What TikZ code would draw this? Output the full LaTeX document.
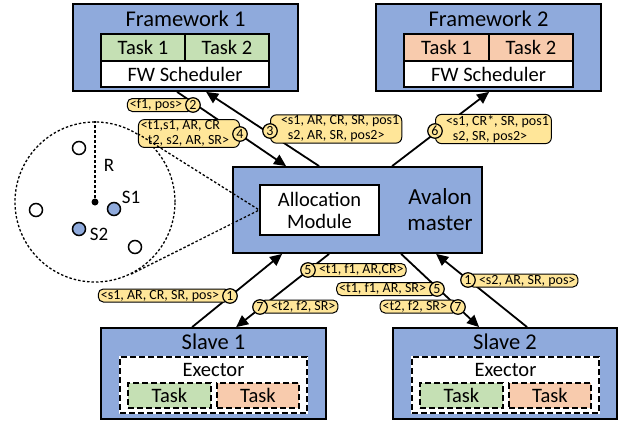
\documentclass[tikz,border=0pt]{standalone}
\usepackage{fontspec}
\setmainfont{Carlito}
\usetikzlibrary{calc,arrows.meta}
\definecolor{boxblue}{HTML}{8FAADC}
\definecolor{taskgreen}{HTML}{C5E0B4}
\definecolor{taskorange}{HTML}{F8CBAD}
\definecolor{pillyellow}{HTML}{FFE699}
\begin{document}
\begin{tikzpicture}[x=1pt,y=-1pt,
  box/.style={draw, line width=1.8, fill=boxblue, inner sep=0},
  inbox/.style={draw, line width=1.5, inner sep=0, font=\fontsize{20.5}{22}\selectfont},
  title/.style={font=\fontsize{22.5}{24}\selectfont, inner sep=0},
  dashbox/.style={draw, line width=1.5, dash pattern=on 6pt off 3pt, preaction={draw=white, line width=2.5, solid}, inner sep=0},
  flow/.style={line width=1.8, -{Triangle[length=12pt,width=11pt]}},
  pill/.style={draw, line width=1, fill=pillyellow, rounded corners=5, inner xsep=2.5, inner ysep=0, text height=10, text depth=3, font=\fontsize{14}{15}\selectfont},
  pilltwo/.style={draw, line width=1, fill=pillyellow, rounded corners=6, inner xsep=2.5, inner ysep=1, align=left, font=\fontsize{14}{15}\selectfont},
  num/.style={circle, draw, line width=1.2, fill=pillyellow, inner sep=0, minimum size=14.5, font=\fontsize{14}{14}\selectfont},
  zoomline/.style={line width=1.3, dash pattern=on 2.5pt off 2pt},
  station/.style={circle, draw, line width=1.5, inner sep=0, minimum size=13, fill=white},
  small/.style={font=\fontsize{19}{20}\selectfont, inner sep=0}]
\useasboundingbox (0,0) rectangle (627,426);

% Framework 1
\node[box, minimum width=225, minimum height=87] (fw1) at (185.5,47.5) {};
\node[title] (fw1t) at (185.5,19) {Framework 1};
\node[inbox, fill=taskgreen, minimum width=84, minimum height=27] (fw1a) at (143,47.5) {Task 1};
\node[inbox, fill=taskgreen, minimum width=84, minimum height=27] (fw1b) at (227,47.5) {Task 2};
\node[inbox, fill=white, minimum width=168, minimum height=26] (fw1s) at (185,74) {FW Scheduler};

% Framework 2
\node[box, minimum width=225, minimum height=87] (fw2) at (488.5,47.5) {};
\node[title] (fw2t) at (488.5,19) {Framework 2};
\node[inbox, fill=taskorange, minimum width=85, minimum height=27] (fw2a) at (446.5,47.5) {Task 1};
\node[inbox, fill=taskorange, minimum width=84, minimum height=27] (fw2b) at (531,47.5) {Task 2};
\node[inbox, fill=white, minimum width=169, minimum height=26] (fw2s) at (488.5,74) {FW Scheduler};

% Avalon master
\node[box, minimum width=249, minimum height=86] (av) at (357.5,210) {};
\node[inbox, fill=white, minimum width=119, minimum height=50, align=center] (alloc) at (319.5,210) {Allocation\\Module};
\node[font=\fontsize{23}{26}\selectfont, align=center, inner sep=0] (avt) at (440,210) {Avalon\\master};

% Slave 1
\node[box, minimum width=225, minimum height=91] (s1) at (213.5,373.5) {};
\node[title] (s1t) at (213.5,342) {Slave 1};
\node[dashbox, fill=white, minimum width=187, minimum height=56] (e1) at (213.5,385) {};
\node[font=\fontsize{20.5}{22}\selectfont, inner sep=0] (e1t) at (213.5,370) {Exector};
\node[inbox, dashbox, fill=taskgreen, minimum width=83, minimum height=25] (e1a) at (169.5,395.5) {Task};
\node[inbox, dashbox, fill=taskorange, minimum width=82, minimum height=25] (e1b) at (258,395.5) {Task};

% Slave 2
\node[box, minimum width=224, minimum height=91] (s2) at (505,373.5) {};
\node[title] (s2t) at (505,342) {Slave 2};
\node[dashbox, fill=white, minimum width=187, minimum height=56] (e2) at (505.5,385) {};
\node[font=\fontsize{20.5}{22}\selectfont, inner sep=0] (e2t) at (505.5,370) {Exector};
\node[inbox, dashbox, fill=taskgreen, minimum width=83, minimum height=25] (e2a) at (461.5,395.5) {Task};
\node[inbox, dashbox, fill=taskorange, minimum width=82, minimum height=25] (e2b) at (550,395.5) {Task};

% Zoom circle
\node[circle, draw, zoomline, minimum size=160, inner sep=0] (zc) at (95,202) {};
\node[circle, fill, inner sep=0, minimum size=7] (ctr) at (95,202) {};
\draw[line width=1.8, dash pattern=on 3pt off 2pt] (ctr) -- (zc.north);
\node[small] (rl) at (109,165) {R};
\node[station] (h1) at (79,148) {};
\node[station] (h2) at (36,210) {};
\node[station] (h3) at (135,247) {};
\node[station, fill=boxblue] (b1) at (114,209) {};
\node[station, fill=boxblue] (b2) at (79,229) {};
\node[small] (s1l) at (131,197) {S1};
\node[small] (s2l) at (99,234) {S2};

% Arrows
\draw[flow] ([xshift=105]fw1.south west) -- ([xshift=54]av.north west);
\draw[flow] ([xshift=87]av.north west) -- ([xshift=134]fw1.south west);
\draw[flow] ([xshift=160]av.north west) -- ([xshift=114]fw2.south west);
\draw[flow] ([xshift=92]s1.north west) -- ([xshift=50]av.south west);
\draw[flow] ([xshift=97]av.south west) -- ([xshift=136]s1.north west);
\draw[flow] ([xshift=169]av.south west) -- ([xshift=87]s2.north west);
\draw[flow] ([xshift=135]s2.north west) -- ([xshift=204]av.south west);

% Labels
\node[pill, anchor=east] (p2) at (193,105) {<f1, pos>\hspace*{8pt}};
\node[num] (n2) at (193,105) {2};
\node[pilltwo, anchor=east] (p4) at (240,133.5) {<t1,s1, AR, CR\\\phantom{<}t2, s2, AR, SR>\hspace*{8pt}};
\node[num] (n4) at (240,134) {4};
\node[pilltwo, anchor=west] (p3) at (270,129) {\hspace*{8pt}<s1, AR, CR, SR, pos1\\\hspace*{8pt}\phantom{<}s2, AR, SR, pos2>};
\node[num] (n3) at (270,131) {3};
\node[pilltwo, anchor=west] (p6) at (435,129) {\hspace*{8pt}<s1, CR*, SR, pos1\\\hspace*{8pt}\phantom{<}s2, SR, pos2>};
\node[num] (n6) at (435,131) {6};
\node[pill, anchor=east] (p1a) at (230,295.5) {<s1, AR, CR, SR, pos>\hspace*{8pt}};
\node[num] (n1a) at (230,296) {1};
\node[pill, anchor=west] (p5a) at (308,270) {\hspace*{8pt}<t1, f1, AR,CR>};
\node[num] (n5a) at (308,270) {5};
\node[pill, anchor=west] (p7a) at (260,306.5) {\hspace*{8pt}<t2, f2, SR>};
\node[num] (n7a) at (260,307) {7};
\node[pill, anchor=east] (p5b) at (437,289) {<t1, f1, AR, SR>\hspace*{8pt}};
\node[num] (n5b) at (437,289) {5};
\node[pill, anchor=east] (p7b) at (458,306.5) {<t2, f2, SR>\hspace*{8pt}};
\node[num] (n7b) at (458,307) {7};
\node[pill, anchor=west] (p1b) at (468,280.5) {\hspace*{8pt}<s2, AR, SR, pos>};
\node[num] (n1b) at (468,280) {1};

% Zoom lines
\draw[zoomline] (tangent cs:node=zc,point={(alloc.west)},solution=1) -- (alloc.west);
\draw[zoomline] (tangent cs:node=zc,point={(alloc.west)},solution=2) -- (alloc.west);
\end{tikzpicture}
\end{document}
